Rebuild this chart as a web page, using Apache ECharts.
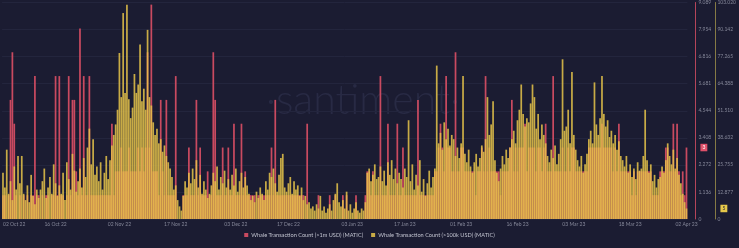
<!DOCTYPE html>
<html>
<head>
<meta charset="utf-8">
<script src="https://cdn.jsdelivr.net/npm/echarts@6/dist/echarts.min.js"></script>
<style>
html,body{margin:0;padding:0;background:#1b1c32;}
#c{width:739px;height:248px;}
</style>
</head>
<body>
<div id="c"></div>
<script>
// 12-hour bins from 02 Oct 22 00:00 to 02 Apr 23 00:00 (bin max of hourly counts)
const startDate = Date.UTC(2022, 9, 2);
const binCount = 365;

const tickLabels = ['02 Oct 22','16 Oct 22','02 Nov 22','17 Nov 22','03 Dec 22','17 Dec 22','03 Jan 23','17 Jan 23','01 Feb 23','16 Feb 23','03 Mar 23','18 Mar 23','02 Apr 23'];
const redTicks = ['0','1.136','2.272','3.408','4.544','5.681','6.816','7.954','9.089'];
const yellowTicks = ['0','12.877','25.755','38.632','51.510','64.388','77.265','90.142','103.020'];

// Whale Transaction Count (>1m USD) (MATIC)
const whale1m = [
1,1,0,1,5,7,4,1,0,1,
0,1,0,1,0,1,1,6,1,1,
0,1,0,1,1,0,1,1,6,1,
6,1,1,0,1,6,1,5,5,2,
1,8,1,6,1,1,6,1,1,1,
1,1,1,1,1,1,1,1,4,1,
2,2,2,3,2,2,2,3,2,2,
2,2,3,2,3,2,3,7,3,9,
2,2,2,1,5,2,1,5,1,1,
1,1,6,0,0,0,1,1,1,3,
1,1,1,5,1,3,1,1,1,2,
1,1,7,5,1,1,1,3,1,1,
3,1,1,4,1,1,1,4,1,2,
1,1,1,1,1,0,1,1,1,1,
1,1,1,3,1,5,1,1,1,1,
1,1,1,1,1,1,1,1,1,1,
1,0,4,0,0,0,0,0,1,0,
0,0,0,0,1,0,0,1,0,0,
0,1,0,1,0,0,0,0,1,0,
0,0,0,1,2,2,1,2,1,1,
1,6,1,1,1,4,1,1,1,1,
4,1,1,3,1,1,1,1,1,1,
1,5,1,1,1,1,1,1,1,1,
2,2,3,4,3,2,6,3,3,2,
2,7,2,2,3,3,2,2,2,2,
2,2,1,2,2,3,2,6,2,3,
2,2,2,2,2,1,2,2,2,2,
3,5,2,3,2,3,3,3,4,2,
3,3,3,3,2,3,3,2,3,4,
2,2,2,6,2,2,2,2,3,2,
2,3,2,3,3,2,2,2,2,2,
2,2,3,3,3,3,3,3,3,4,
3,3,3,3,3,2,3,2,4,2,
2,2,2,2,2,1,2,1,2,2,
2,2,2,2,2,2,1,1,1,1,
2,2,2,3,3,2,2,4,2,4,
2,1,2,1,3
];

// Whale Transaction Count (>100k USD) (MATIC)
const whale100k = [
22,15,33,12,18,9,25,14,30,17,
30,12,9,16,8,21,11,7,14,10,
14,18,24,10,15,20,12,26,17,11,
16,12,22,9,27,19,14,31,23,13,
18,24,15,29,20,34,43,26,38,21,
25,18,27,14,22,30,19,28,35,40,
45,52,79,58,98,60,102,57,48,53,
69,60,64,83,56,62,52,90,58,54,
46,40,43,36,38,32,35,30,27,24,
20,14,16,9,6,4,11,18,15,22,
17,24,19,28,15,21,12,18,14,10,
12,16,22,18,25,14,20,17,23,15,
19,14,21,16,24,13,18,22,15,20,
16,12,9,11,8,13,10,15,12,9,
18,14,22,20,24,17,13,21,29,31,
15,13,17,20,12,18,14,16,11,15,
9,11,7,8,5,6,4,7,5,11,
4,6,3,5,7,4,9,12,17,8,
6,9,5,13,4,7,3,5,8,4,
3,5,4,8,22,24,18,21,26,19,
20,25,18,23,16,27,21,28,19,24,
17,22,19,15,24,20,47,18,26,14,
21,16,28,13,19,11,17,23,15,20,
24,73,36,41,33,46,38,43,35,40,
38,30,34,29,36,68,31,27,33,25,
22,27,31,25,29,35,32,38,58,40,
45,56,28,22,18,24,30,26,33,29,
34,38,42,36,47,52,64,50,44,48,
46,55,64,58,43,50,38,45,40,36,
30,27,33,29,35,26,31,38,76,42,
44,52,36,70,40,33,28,25,30,22,
26,31,38,42,36,65,45,40,48,68,
50,44,47,39,42,36,40,33,37,30,
28,25,30,22,26,20,24,19,27,23,
24,30,52,28,22,26,18,21,15,19,
20,25,22,28,36,30,26,33,24,29,
21,17,12,8,5
];

const MONTHS = ['Jan','Feb','Mar','Apr','May','Jun','Jul','Aug','Sep','Oct','Nov','Dec'];
function pad(n){return (n<10?'0':'')+n;}
const categories = [];
for (let i = 0; i < binCount; i++) {
  const d = new Date(startDate + i * 12 * 3600 * 1000);
  categories.push(pad(d.getUTCDate()) + ' ' + MONTHS[d.getUTCMonth()] + ' ' + String(d.getUTCFullYear()).slice(2) + '|' + pad(d.getUTCHours()));
}

const redMax = 9.089, yellowMax = 103.02;
const redStep = redMax / 8, yellowStep = yellowMax / 8;
const lastRed = whale1m[whale1m.length - 1];
const lastYellow = whale100k[whale100k.length - 1];

const labelFont = 'Lato, "Noto Sans", sans-serif';

const chart = echarts.init(document.getElementById('c'), null, {renderer: 'canvas'});
chart.setOption({
  backgroundColor: '#1b1c32',
  animation: false,
  graphic: [{
    type: 'text', left: 266, top: 80, z: 0, silent: true,
    style: { text: '·santiment·', fill: '#282a44', font: '300 41px Lato, "Open Sans", sans-serif' }
  }],
  legend: {
    bottom: 5, left: 'center', icon: 'rect', itemWidth: 4, itemHeight: 4, itemGap: 8,
    textStyle: { color: '#c2c4d0', fontSize: 5.6, fontFamily: labelFont, padding: [0,0,0,-2] },
    data: ['Whale Transaction Count (>1m USD) (MATIC)', 'Whale Transaction Count (>100k USD) (MATIC)']
  },
  grid: { left: 0, right: 47, top: 0, bottom: 29, containLabel: false },
  xAxis: {
    type: 'category', data: categories, boundaryGap: true,
    axisLine: { show: false }, axisTick: { show: false }, splitLine: { show: false },
    axisLabel: {
      color: '#858799', fontSize: 5, fontFamily: labelFont, margin: 3,
      alignMinLabel: 'left',
      interval: function (idx, val) { const p = val.split('|'); return p[1] === '00' && tickLabels.indexOf(p[0]) >= 0; },
      formatter: function (val) { return val.split('|')[0]; }
    }
  },
  yAxis: [{
    type: 'value', position: 'right', offset: 8, min: 0, max: redMax, interval: redStep,
    axisLine: { show: true, lineStyle: { color: '#b5455a', width: 1 } },
    axisTick: { show: false },
    splitLine: { show: true, lineStyle: { color: '#23253d', width: 1 } },
    axisLabel: { color: '#858799', fontSize: 5, fontFamily: labelFont, margin: 3,
      formatter: function (v) { return redTicks[Math.round(v / redStep)]; } }
  }, {
    type: 'value', position: 'right', offset: 28, min: 0, max: yellowMax, interval: yellowStep,
    axisLine: { show: true, lineStyle: { color: '#857a45', width: 1 } },
    axisTick: { show: false },
    splitLine: { show: false },
    axisLabel: { color: '#858799', fontSize: 5, fontFamily: labelFont, margin: 2,
      formatter: function (v) { return yellowTicks[Math.round(v / yellowStep)]; } }
  }],
  series: [{
    name: 'Whale Transaction Count (>1m USD) (MATIC)',
    type: 'bar', yAxisIndex: 0, data: whale1m,
    barGap: '-100%', barCategoryGap: '8%', clip: false,
    itemStyle: { color: '#c94a60' },
    z: 2,
    markLine: {
      silent: true, symbol: ['none', 'none'], animation: false,
      lineStyle: { color: 'rgba(0,0,0,0)', width: 0, type: 'solid' },
      data: [{ yAxis: lastRed }],
      label: { show: true, position: 'end', distance: 13, formatter: String(lastRed), color: '#ffffff',
        backgroundColor: '#e0506a', fontSize: 5, padding: [1.5, 2, 1, 2], fontFamily: labelFont, opacity: 1 }
    }
  }, {
    name: 'Whale Transaction Count (>100k USD) (MATIC)',
    type: 'bar', yAxisIndex: 1, data: whale100k,
    barGap: '-100%', barCategoryGap: '8%', clip: false,
    itemStyle: { color: 'rgba(230,196,74,0.85)' },
    z: 3,
    markLine: {
      silent: true, symbol: ['none', 'none'], animation: false,
      lineStyle: { color: 'rgba(0,0,0,0)', width: 0, type: 'solid' },
      data: [{ yAxis: lastYellow }],
      label: { show: true, position: 'end', distance: 33, formatter: String(lastYellow), color: '#1b1c32',
        backgroundColor: '#e6c84a', fontSize: 5, padding: [1.5, 2, 1, 2], fontFamily: labelFont, opacity: 1 }
    }
  }]
});
</script>
</body>
</html>
